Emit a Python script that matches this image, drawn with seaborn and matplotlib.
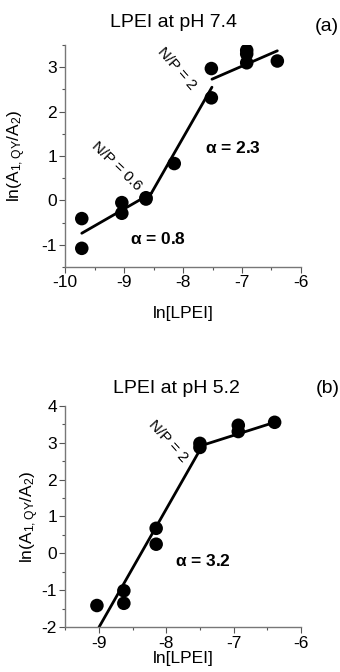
import numpy as np
import pandas as pd
import seaborn as sns
from matplotlib import pyplot as plt
from matplotlib.ticker import MultipleLocator

# panel (a): LPEI at pH 7.4
ln_lpei_a = [-9.72, -9.72, -9.04, -9.04, -8.63, -8.63, -8.15, -7.52, -7.52, -6.92, -6.92, -6.92, -6.40]
ln_ratio_a = [-0.41, -1.08, -0.05, -0.29, 0.06, 0.03, 0.83, 2.97, 2.31, 3.38, 3.30, 3.10, 3.14]
fit_x_a = [-9.72, -8.54, -8.54, -7.51, -7.51, -6.40]
fit_y_a = [-0.74, 0.16, 0.16, 2.55, 2.73, 3.37]
fit_seg_a = [0, 0, 1, 1, 2, 2]

# panel (b): LPEI at pH 5.2
ln_lpei_b = [-9.03, -8.63, -8.63, -8.15, -8.15, -7.50, -7.50, -6.93, -6.93, -6.39]
ln_ratio_b = [-1.41, -1.01, -1.35, 0.68, 0.25, 2.98, 2.87, 3.47, 3.30, 3.55]
fit_x_b = [-9.00, -7.46, -7.46, -6.39]
fit_y_b = [-2.00, 2.93, 2.93, 3.55]
fit_seg_b = [0, 0, 1, 1]

sns.set_theme(style="ticks")
plt.rcParams['font.family'] = ['Liberation Sans', 'DejaVu Sans']
plt.rcParams['mathtext.default'] = 'regular'
plt.rcParams['axes.unicode_minus'] = False
plt.rcParams['text.color'] = 'black'
plt.rcParams['axes.labelcolor'] = 'black'
plt.rcParams['xtick.labelcolor'] = 'black'
plt.rcParams['ytick.labelcolor'] = 'black'

fig = plt.figure(figsize=(3.4, 6.72), dpi=100)
ax_a = fig.add_axes([0.192, 0.6027, 0.693, 0.3303])
ax_b = fig.add_axes([0.192, 0.0665, 0.693, 0.3298])


def draw_panel(ax, x, y, fx, fy, seg):
    pts = pd.DataFrame({'x': x, 'y': y})
    fit = pd.DataFrame({'x': fx, 'y': fy, 'seg': seg})
    sns.lineplot(data=fit, x='x', y='y', units='seg', estimator=None, sort=False,
                 color='black', linewidth=2, ax=ax)
    sns.scatterplot(data=pts, x='x', y='y', color='black', s=95, edgecolor='none',
                    zorder=3, ax=ax)
    sns.despine(ax=ax)
    for side in ['left', 'bottom']:
        ax.spines[side].set_color('#777777')
        ax.spines[side].set_linewidth(1.0)
    ax.xaxis.set_major_locator(MultipleLocator(1))
    ax.xaxis.set_minor_locator(MultipleLocator(0.5))
    ax.yaxis.set_major_locator(MultipleLocator(1))
    ax.yaxis.set_minor_locator(MultipleLocator(0.5))
    ax.tick_params(which='major', direction='out', length=4, width=0.8,
                   color='#555555', labelsize=12.5, pad=2)
    ax.tick_params(which='minor', direction='out', length=2.5, width=0.8, color='#555555')
    ax.set_xlabel('ln[LPEI]', fontsize=12.5)
    ax.set_ylabel('ln(A$_{1,QY}$/A$_2$)', fontsize=12.5)


draw_panel(ax_a, ln_lpei_a, ln_ratio_a, fit_x_a, fit_y_a, fit_seg_a)
ax_a.set_xlim(-10, -6)
ax_a.set_ylim(-1.5, 3.5)
ax_a.set_yticks([-1, 0, 1, 2, 3])
ax_a.xaxis.labelpad = 11
ax_a.yaxis.labelpad = 10
ax_a.text(-9.13, 0.78, 'N/P = 0.6', rotation=-44, fontsize=11, ha='center', va='center')
ax_a.text(-8.10, 2.97, 'N/P = 2', rotation=-49, fontsize=11, ha='center', va='center')
ax_a.text(-7.15, 1.17, r'$\alpha$ = 2.3', fontsize=12.5, weight='bold', ha='center', va='center')
ax_a.text(-8.43, -0.86, r'$\alpha$ = 0.8', fontsize=12.5, weight='bold', ha='center', va='center')

draw_panel(ax_b, ln_lpei_b, ln_ratio_b, fit_x_b, fit_y_b, fit_seg_b)
ax_b.set_xlim(-9.5, -6)
ax_b.set_ylim(-2, 4)
ax_b.set_xticks([-9, -8, -7, -6])
ax_b.xaxis.labelpad = 0
ax_b.yaxis.labelpad = 0
ax_b.text(-7.98, 3.05, 'N/P = 2', rotation=-48, fontsize=11, ha='center', va='center')
ax_b.text(-7.46, -0.2, r'$\alpha$ = 3.2', fontsize=12.5, weight='bold', ha='center', va='center')

fig.text(0.509, 0.966, 'LPEI at pH 7.4', fontsize=14, ha='center', va='center')
fig.text(0.998, 0.960, '(a)', fontsize=14, ha='right', va='center')
fig.text(0.520, 0.4226, 'LPEI at pH 5.2', fontsize=14, ha='center', va='center')
fig.text(0.998, 0.4226, '(b)', fontsize=14, ha='right', va='center')

fig.savefig('out.png', dpi=100)
